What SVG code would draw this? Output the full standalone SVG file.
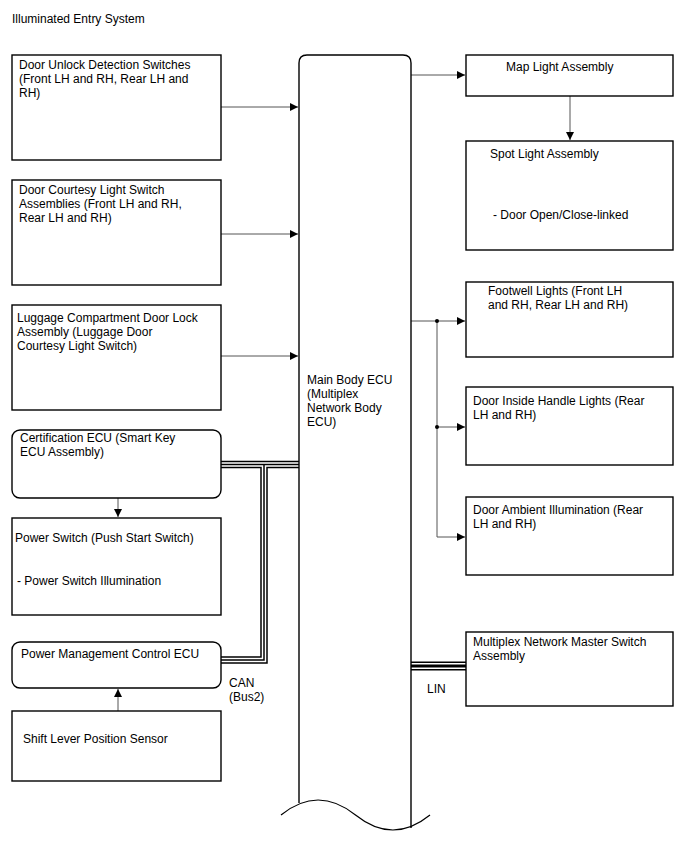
<svg xmlns="http://www.w3.org/2000/svg" width="688" height="852" viewBox="0 0 688 852">
<defs>
<marker id="ah" viewBox="0 0 10 10" refX="10" refY="5" markerWidth="10" markerHeight="8" markerUnits="userSpaceOnUse" orient="auto">
<path d="M0,0 L10,5 L0,10 z" fill="#000"/>
</marker>
<style>
text{font-family:"Liberation Sans",Arial,sans-serif;font-size:12px;fill:#000}
.box{fill:#fff;stroke:#000;stroke-width:1.4}
.ln{fill:none;stroke:#555;stroke-width:1}
.arr{fill:none;stroke:#555;stroke-width:1;marker-end:url(#ah)}
.dot{fill:#000}
.b1{fill:none;stroke:#000;stroke-width:7.5}
.b2{fill:none;stroke:#fff;stroke-width:4.5}
.b3{fill:none;stroke:#000;stroke-width:1.5}
.l1{fill:none;stroke:#000;stroke-width:9}
.l2{fill:none;stroke:#fff;stroke-width:6}
.l3{fill:none;stroke:#000;stroke-width:3}
</style>
</defs>
<rect width="688" height="852" fill="#fff"/>
<text x="12" y="23">Illuminated Entry System</text>

<g id="connectors">
<path class="arr" d="M221,107 H298"/>
<path class="arr" d="M221,234 H298"/>
<path class="arr" d="M221,356 H298"/>
<path class="arr" d="M118,498 V517"/>
<path class="arr" d="M118,711 V689"/>
<path class="arr" d="M411,75 H465"/>
<path class="arr" d="M570,96 V140"/>
<path class="arr" d="M411,321 H465"/>
<path class="arr" d="M437,427 H465"/>
<path class="ln" d="M437,321 V537"/>
<path class="arr" d="M437,537 H465"/>
<circle class="dot" cx="437" cy="321" r="2"/>
<circle class="dot" cx="437" cy="427" r="2"/>
<g id="can-bus">
<path class="b1" d="M221,464.5 H299 M264,464.5 V660 H221"/>
<path class="b2" d="M221,464.5 H299 M264,464.5 V660 H221"/>
<path class="b3" d="M221,464.5 H299 M264,464.5 V660 H221"/>
</g>
<g id="lin-bus">
<path class="l1" d="M411,666 H466"/>
<path class="l2" d="M411,666 H466"/>
<path class="l3" d="M411,666 H466"/>
</g>
<text x="229" y="687">CAN</text>
<text x="229" y="701">(Bus2)</text>
<text x="427" y="693">LIN</text>
</g>

<g id="main-body-ecu">
<path class="box" d="M299,803 V63 Q299,55 307,55 H403 Q411,55 411,63 V828"/>
<path fill="none" stroke="#000" stroke-width="1.2" d="M281,815 Q318,785 355.5,815 Q393,845 430,815"/>
<text x="307" y="384">Main Body ECU</text>
<text x="307" y="398">(Multiplex</text>
<text x="307" y="412">Network Body</text>
<text x="307" y="426">ECU)</text>
</g>

<g id="door-unlock">
<rect class="box" x="12" y="55" width="209" height="105"/>
<text x="19" y="69">Door Unlock Detection Switches</text>
<text x="19" y="83">(Front LH and RH, Rear LH and</text>
<text x="19" y="97">RH)</text>
</g>
<g id="door-courtesy">
<rect class="box" x="12" y="180" width="209" height="105"/>
<text x="19" y="194">Door Courtesy Light Switch</text>
<text x="19" y="208">Assemblies (Front LH and RH,</text>
<text x="19" y="222">Rear LH and RH)</text>
</g>
<g id="luggage">
<rect class="box" x="12" y="305" width="209" height="105"/>
<text x="17" y="322">Luggage Compartment Door Lock</text>
<text x="17" y="336">Assembly (Luggage Door</text>
<text x="17" y="350">Courtesy Light Switch)</text>
</g>
<g id="certification-ecu">
<rect class="box" x="12" y="430" width="209" height="68" rx="8"/>
<text x="20" y="442">Certification ECU (Smart Key</text>
<text x="20" y="456">ECU Assembly)</text>
</g>
<g id="power-switch">
<rect class="box" x="12" y="518" width="209" height="97"/>
<text x="15" y="542">Power Switch (Push Start Switch)</text>
<text x="17" y="585">- Power Switch Illumination</text>
</g>
<g id="power-management">
<rect class="box" x="12" y="642" width="209" height="46" rx="8"/>
<text x="21" y="658">Power Management Control ECU</text>
</g>
<g id="shift-lever">
<rect class="box" x="12" y="711" width="209" height="70"/>
<text x="23" y="743">Shift Lever Position Sensor</text>
</g>

<g id="map-light">
<rect class="box" x="466" y="55" width="207" height="41"/>
<text x="506" y="71">Map Light Assembly</text>
</g>
<g id="spot-light">
<rect class="box" x="466" y="141" width="207" height="109"/>
<text x="490" y="158">Spot Light Assembly</text>
<text x="493" y="219">- Door Open/Close-linked</text>
</g>
<g id="footwell">
<rect class="box" x="466" y="282" width="207" height="75"/>
<text x="488" y="295">Footwell Lights (Front LH</text>
<text x="488" y="309">and RH, Rear LH and RH)</text>
</g>
<g id="door-inside-handle">
<rect class="box" x="466" y="387" width="207" height="78"/>
<text x="473" y="405">Door Inside Handle Lights (Rear</text>
<text x="473" y="419">LH and RH)</text>
</g>
<g id="door-ambient">
<rect class="box" x="466" y="497" width="207" height="78"/>
<text x="473" y="514">Door Ambient Illumination (Rear</text>
<text x="473" y="528">LH and RH)</text>
</g>
<g id="multiplex-master">
<rect class="box" x="466" y="632" width="207" height="74"/>
<text x="473" y="646">Multiplex Network Master Switch</text>
<text x="473" y="660">Assembly</text>
</g>
</svg>
